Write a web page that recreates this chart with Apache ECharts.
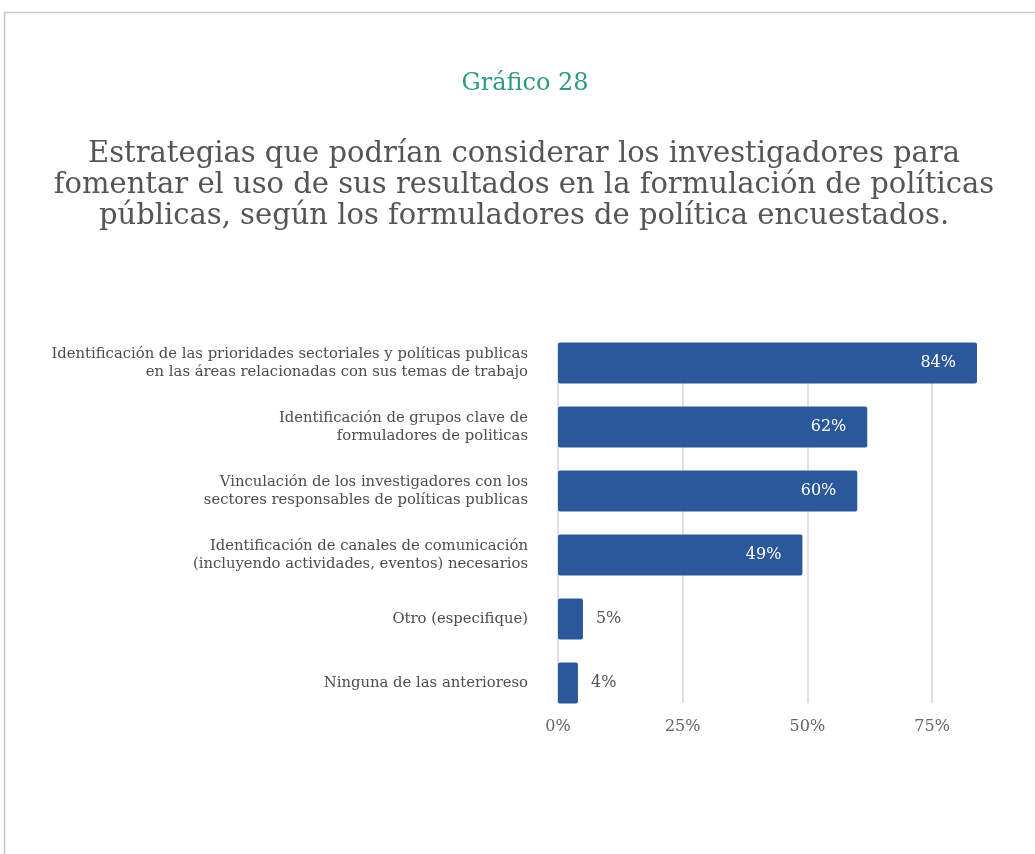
<!DOCTYPE html>
<html>
<head>
<meta charset="utf-8">
<script src="https://cdn.jsdelivr.net/npm/echarts@6/dist/echarts.min.js"></script>
<style>
  html, body { margin: 0; padding: 0; background: #ffffff; }
  #chart { width: 1035px; height: 854px; }
</style>
</head>
<body>
<div id="chart"></div>
<script>
// Survey strategies (top to bottom) and share of respondents (%)
const categories = [
  'Identificación de las prioridades sectoriales y políticas publicas\nen las áreas relacionadas con sus temas de trabajo',
  'Identificación de grupos clave de\nformuladores de politicas',
  'Vinculación de los investigadores con los\nsectores responsables de políticas publicas',
  'Identificación de canales de comunicación\n(incluyendo actividades, eventos) necesarios',
  'Otro (especifique)',
  'Ninguna de las anterioreso'
];
const values = [84, 62, 60, 49, 5, 4];
const xTicks = [0, 25, 50, 75];

const chartTitle = 'Gráfico 28';
const chartSubtitle = 'Estrategias que podrían considerar los investigadores para\nfomentar el uso de sus resultados en la formulación de políticas\npúblicas, según los formuladores de política encuestados.';

const serif = '"DejaVu Serif", "Liberation Serif", serif';
const barColor = '#2b579b';
const xMax = 84;

const chart = echarts.init(document.getElementById('chart'), null, { renderer: 'canvas' });

chart.setOption({
  backgroundColor: '#ffffff',
  animation: false,
  graphic: [{
    type: 'rect',
    shape: { x: 4.5, y: 12.5, width: 1200, height: 1000 },
    style: { fill: 'none', stroke: '#c8c8c8', lineWidth: 1.5 },
    silent: true
  }, {
    type: 'text',
    x: 525, y: 72,
    style: { text: chartTitle, fontFamily: serif, fontSize: 24, fill: '#2f9a83', align: 'center', verticalAlign: 'top' },
    silent: true
  }, {
    type: 'text',
    x: 524, y: 139,
    style: { text: chartSubtitle, fontFamily: serif, fontSize: 29, lineHeight: 31, fill: '#555555', align: 'center', verticalAlign: 'top' },
    silent: true
  }],
  grid: [
    // bars
    { left: 558, right: 58, top: 331, bottom: 139, containLabel: false },
    // gridlines and percentage ticks, spanning from the first bar to the last
    { left: 558, right: 58, top: 343, bottom: 151, containLabel: false }
  ],
  xAxis: [{
    gridIndex: 0,
    type: 'value', min: 0, max: xMax,
    axisLine: { show: false }, axisTick: { show: false },
    splitLine: { show: false }, axisLabel: { show: false }
  }, {
    gridIndex: 1,
    type: 'value', min: 0, max: xMax, interval: 25,
    axisLine: { show: false }, axisTick: { show: false },
    splitLine: { show: true, showMaxLine: false, lineStyle: { color: '#d6d6d6', width: 1.5 } },
    axisLabel: {
      showMaxLabel: false,
      formatter: v => (xTicks.indexOf(v) >= 0 ? v + '%' : ''),
      fontFamily: serif, fontSize: 16, color: '#666666', margin: 16
    }
  }],
  yAxis: [{
    gridIndex: 0,
    type: 'category',
    data: categories,
    inverse: true,
    axisLine: { show: false },
    axisTick: { show: false },
    axisLabel: { fontFamily: serif, fontSize: 14.8, color: '#4d4d4d', lineHeight: 18, margin: 30, align: 'right', padding: [3, 0, 0, 0] }
  }, {
    gridIndex: 1,
    type: 'value', min: 0, max: 1, show: false
  }],
  series: [{
    type: 'bar',
    xAxisIndex: 0,
    yAxisIndex: 0,
    data: values.map(v => ({
      value: v,
      label: v >= 20
        ? { position: 'insideRight', distance: 21, color: '#ffffff' }
        : { position: 'right', distance: 13, color: '#555555' }
    })),
    barWidth: 41,
    itemStyle: { color: barColor, borderRadius: 2 },
    label: {
      show: true,
      formatter: p => p.value + '%',
      fontFamily: serif,
      fontSize: 16
    }
  }]
});
</script>
</body>
</html>
